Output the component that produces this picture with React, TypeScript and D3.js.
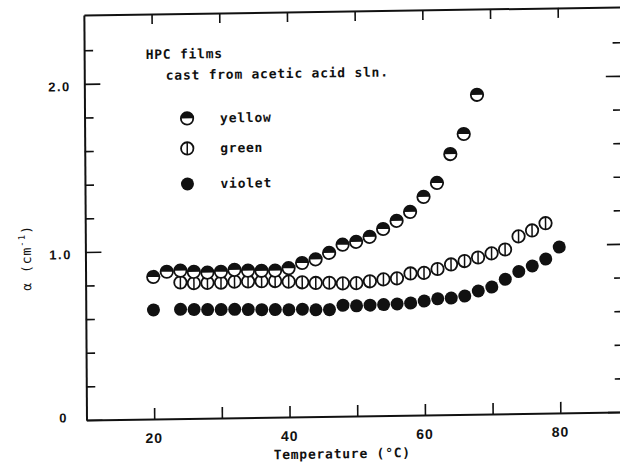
import React, { useEffect, useRef } from 'react';
import * as d3 from 'd3';

// absorption coefficient vs temperature
const yellowTemp = [20, 22, 24, 26, 28, 30, 32, 34, 36, 38, 40, 42, 44, 46, 48, 50, 52, 54, 56, 58, 60, 62, 64, 66, 68];
const yellowAlpha = [0.845, 0.875, 0.88, 0.872, 0.866, 0.87, 0.88, 0.874, 0.872, 0.872, 0.885, 0.915, 0.935, 0.973, 1.02, 1.036, 1.064, 1.11, 1.157, 1.209, 1.297, 1.379, 1.55, 1.668, 1.9];

const greenTemp = [24, 26, 28, 30, 32, 34, 36, 38, 40, 42, 44, 46, 48, 50, 52, 54, 56, 58, 60, 62, 64, 66, 68, 70, 72, 74, 76, 78];
const greenAlpha = [0.81, 0.805, 0.805, 0.805, 0.81, 0.81, 0.81, 0.81, 0.805, 0.8, 0.795, 0.795, 0.79, 0.79, 0.8, 0.81, 0.815, 0.843, 0.845, 0.867, 0.893, 0.912, 0.932, 0.955, 0.977, 1.054, 1.088, 1.13];

const violetTemp = [20, 24, 26, 28, 30, 32, 34, 36, 38, 40, 42, 44, 46, 48, 50, 52, 54, 56, 58, 60, 62, 64, 66, 68, 70, 72, 74, 76, 78, 80];
const violetAlpha = [0.649, 0.65, 0.648, 0.646, 0.645, 0.645, 0.643, 0.641, 0.64, 0.638, 0.64, 0.635, 0.635, 0.66, 0.655, 0.658, 0.66, 0.663, 0.667, 0.678, 0.69, 0.693, 0.704, 0.733, 0.755, 0.8, 0.845, 0.877, 0.917, 0.987];

const xTicks = [20, 30, 40, 50, 60, 70, 80];
const xLabels = [20, 40, 60, 80];
const yMajor = [0, 1, 2];
const yMinor = [0.2, 0.4, 0.6, 0.8, 1.2, 1.4, 1.6, 1.8, 2.2];
const legendNames = ['yellow', 'green', 'violet'];
const legendRows = [120, 150, 185.5];
const noteLines = ['HPC films', 'cast from acetic acid sln.'];

const mono = '"DejaVu Sans Mono", "Liberation Mono", monospace';
const sans = '"Liberation Sans", Arial, sans-serif';
const ink = '#111';
const R = 6.2;

const drawMarker = (sel: any, kind: string) => {
  if (kind === 'violet') {
    sel.append('circle').attr('r', R + 0.3).attr('fill', ink);
    return;
  }
  sel.append('circle')
    .attr('r', R)
    .attr('fill', '#fff')
    .attr('stroke', ink)
    .attr('stroke-width', 1.8);
  if (kind === 'yellow') {
    sel.append('path')
      .attr('d', `M${-R},0A${R},${R} 0 0 1 ${R},0Z`)
      .attr('fill', ink);
  } else {
    sel.append('line')
      .attr('y1', -R).attr('y2', R)
      .attr('stroke', ink)
      .attr('stroke-width', 1.5);
  }
};

export default function App() {
  const ref = useRef<SVGSVGElement>(null);

  useEffect(() => {
    const svg = d3.select(ref.current);
    svg.selectAll('*').remove();

    const x = d3.scaleLinear().domain([10, 90]).range([86.5, 628]);
    const y = d3.scaleLinear().domain([0, 2.41]).range([420, 15]);

    // the scanned page is slightly skewed
    const root = svg.append('g')
      .attr('transform', 'matrix(1,-0.015,0.0065,1,-2.73,1.29)')
      .style('color', ink);

    const styleAxis = (g: any, bare: boolean) => {
      g.select('.domain').attr('stroke-width', 2);
      g.selectAll('.tick line').attr('stroke-width', 1.6);
      if (bare) g.select('.domain').remove();
    };

    root.append('g')
      .attr('transform', 'translate(86.5,0)')
      .call(d3.axisLeft(y).tickValues(yMajor).tickSizeInner(-16).tickSizeOuter(0).tickFormat(() => ''))
      .call((g: any) => styleAxis(g, false));
    root.append('g')
      .attr('transform', 'translate(86.5,0)')
      .call(d3.axisLeft(y).tickValues(yMinor).tickSizeInner(-9).tickSizeOuter(0).tickFormat(() => ''))
      .call((g: any) => styleAxis(g, true));

    root.append('g')
      .attr('transform', 'translate(628,0)')
      .call(d3.axisRight(y).tickValues(yMajor).tickSizeInner(-20).tickSizeOuter(0).tickFormat(() => ''))
      .call((g: any) => styleAxis(g, true));
    root.append('g')
      .attr('transform', 'translate(628,0)')
      .call(d3.axisRight(y).tickValues(yMinor).tickSizeInner(-13).tickSizeOuter(0).tickFormat(() => ''))
      .call((g: any) => styleAxis(g, true));

    root.append('g')
      .attr('transform', 'translate(0,420)')
      .call(d3.axisBottom(x).tickValues(xTicks).tickSizeInner(-11).tickSizeOuter(0).tickFormat(() => ''))
      .call((g: any) => styleAxis(g, false));
    root.append('g')
      .attr('transform', 'translate(0,15)')
      .call(d3.axisTop(x).tickValues(xTicks).tickSizeInner(-10).tickSizeOuter(0).tickFormat(() => ''))
      .call((g: any) => styleAxis(g, false));

    // tick labels
    root.selectAll('.ylab')
      .data(yMajor)
      .join('text')
      .attr('class', 'ylab')
      .attr('x', d => d === 0 ? 68 : 73)
      .attr('y', d => y(d) + (d === 0 ? 2 : 7))
      .attr('text-anchor', 'end')
      .style('font', `bold 13px ${sans}`)
      .style('letter-spacing', '1.5px')
      .attr('fill', ink)
      .text(d => d === 0 ? '0' : d.toFixed(1));

    root.selectAll('.xlab')
      .data(xLabels)
      .join('text')
      .attr('class', 'xlab')
      .attr('x', d => x(d))
      .attr('y', 444)
      .attr('text-anchor', 'middle')
      .style('font', `bold 14px ${sans}`)
      .style('letter-spacing', '1px')
      .attr('fill', ink)
      .text(d => d);

    root.append('text')
      .attr('x', 342)
      .attr('y', 462)
      .attr('text-anchor', 'middle')
      .style('font', `bold 13px ${mono}`)
      .style('letter-spacing', '0.75px')
      .attr('fill', ink)
      .text('Temperature (°C)');

    const yTitle = root.append('text')
      .attr('transform', 'translate(32,257) rotate(-90)')
      .attr('text-anchor', 'middle')
      .style('font', `13px ${mono}`)
      .style('letter-spacing', '1px')
      .attr('fill', ink);
    yTitle.append('tspan').text('α (cm');
    yTitle.append('tspan').attr('dy', -6).style('font-size', '9px').text('-1');
    yTitle.append('tspan').attr('dy', 6).text(')');

    // note + legend
    root.selectAll('.note')
      .data(noteLines)
      .join('text')
      .attr('class', 'note')
      .attr('x', (d, i) => i === 0 ? 148 : 168)
      .attr('y', (d, i) => i === 0 ? 60 : 81)
      .style('font', `bold 13px ${mono}`)
      .style('letter-spacing', '0.75px')
      .attr('fill', ink)
      .text(d => d);

    legendNames.forEach((name, i) => {
      const row = root.append('g').attr('transform', `translate(189,${legendRows[i]})`);
      drawMarker(row.append('g'), name);
      row.append('text')
        .attr('x', 33)
        .attr('y', 4.5)
        .style('font', `bold 13px ${mono}`)
        .style('letter-spacing', '0.75px')
        .attr('fill', ink)
        .text(name);
    });

    // data points: green under yellow where they touch
    const series = [
      { name: 'green', temp: greenTemp, alpha: greenAlpha },
      { name: 'yellow', temp: yellowTemp, alpha: yellowAlpha },
      { name: 'violet', temp: violetTemp, alpha: violetAlpha },
    ];
    series.forEach(s => {
      root.append('g')
        .selectAll('g')
        .data(d3.zip(s.temp, s.alpha))
        .join('g')
        .attr('transform', d => `translate(${x(d[0])},${y(d[1])})`)
        .each(function () { drawMarker(d3.select(this), s.name); });
    });
  }, []);

  return (
    <svg
      ref={ref}
      width={620}
      height={463}
      style={{ position: 'absolute', left: 0, top: 0, background: '#fff' }}
    />
  );
}
